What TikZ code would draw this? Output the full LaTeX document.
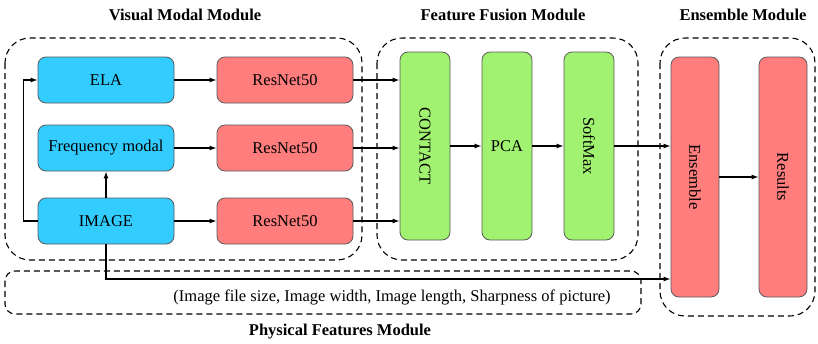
\documentclass[tikz,border=0pt]{standalone}
\usepackage{fontspec}
\setmainfont{Liberation Serif}
\usetikzlibrary{arrows.meta}
\definecolor{visblue}{RGB}{51,204,255}
\definecolor{netred}{RGB}{255,125,125}
\definecolor{fusegreen}{RGB}{160,242,112}
\tikzset{
  blk/.style={draw=black!65, line width=0.8pt, rounded corners=8pt, inner sep=0pt,
    font=\fontsize{16.5}{19}\selectfont},
  visbox/.style={blk, fill=visblue, minimum width=136pt, minimum height=46pt},
  netbox/.style={blk, fill=netred, minimum width=136pt, minimum height=46pt},
  fusebox/.style={blk, fill=fusegreen, minimum width=50pt, minimum height=188pt},
  ensbox/.style={blk, fill=netred, minimum width=48pt, minimum height=240pt},
  modbox/.style={draw, dashed, dash pattern=on 6pt off 4pt, line width=1.1pt, rounded corners=25pt},
  title/.style={font=\fontsize{16.5}{19}\selectfont\bfseries},
  arr/.style={-{Latex[length=7pt,width=5pt]}, line width=1.1pt}
}
\begin{document}
\begin{tikzpicture}[x=1pt,y=-1pt]
  \useasboundingbox (0,0) rectangle (818,343);

  % module frames
  \draw[modbox] (5,38) rectangle (362,260);
  \draw[modbox] (377,38) rectangle (638,260);
  \draw[modbox] (660,38) rectangle (815,316);
  \draw[modbox, rounded corners=10pt] (5,271) rectangle (641,314);

  \node[title] (tvis) at (185,15) {Visual Modal Module};
  \node[title] (tfuse) at (503,15) {Feature Fusion Module};
  \node[title] (tens) at (743,15) {Ensemble Module};
  \node[title] (tphys) at (340,332) {Physical Features Module};

  % visual modal blocks
  \node[visbox] (ela) at (106,80) {ELA};
  \node[visbox] (freq) at (106,148) {Frequency modal};
  \node[visbox] (img) at (106,221) {IMAGE};
  \node[netbox] (resA) at (285,80) {ResNet50};
  \node[netbox] (resB) at (285,148) {ResNet50};
  \node[netbox] (resC) at (285,221) {ResNet50};

  % fusion blocks
  \node[fusebox] (contact) at (425,146) {\rotatebox{-90}{CONTACT}};
  \node[fusebox] (pca) at (507,146) {PCA};
  \node[fusebox] (softmax) at (589,146) {\rotatebox{-90}{SoftMax}};

  % ensemble blocks
  \node[ensbox] (ens) at (695,177) {\rotatebox{-90}{Ensemble}};
  \node[ensbox] (results) at (783,177) {\rotatebox{-90}{Results}};

  \node[font=\fontsize{16.5}{19}\selectfont] (phys) at (392,297)
    {(Image file size, Image width, Image length, Sharpness of picture)};
  \coordinate (physline) at (0,279);

  % connectors
  \draw[arr] (ela) -- (resA);
  \draw[arr] (freq) -- (resB);
  \draw[arr] (img) -- (resC);
  \draw[arr] (img) -- (freq);
  \draw[arr] (img.west) -- ++(-14,0) |- (ela.west);
  \draw[arr] (resA.east) -- (resA.east -| contact.west);
  \draw[arr] (resB.east) -- (resB.east -| contact.west);
  \draw[arr] (resC.east) -- (resC.east -| contact.west);
  \draw[arr] (contact) -- (pca);
  \draw[arr] (pca) -- (softmax);
  \draw[arr] (softmax.east) -- (softmax.east -| ens.west);
  \draw[arr] (ens) -- (results);
  \draw[arr] (img.south) |- (ens.west |- physline);
\end{tikzpicture}
\end{document}
